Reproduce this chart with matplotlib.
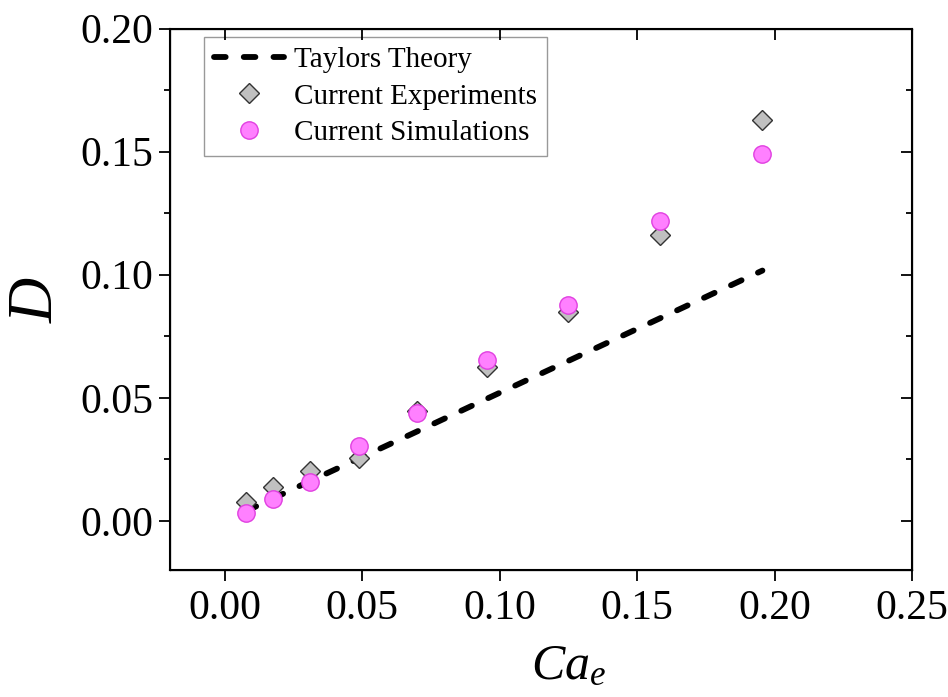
import matplotlib
matplotlib.use('Agg')
import matplotlib.pyplot as plt
from matplotlib.ticker import MultipleLocator

plt.rcParams['font.family'] = ['Liberation Serif', 'DejaVu Serif']
plt.rcParams['mathtext.fontset'] = 'custom'
plt.rcParams['mathtext.it'] = 'Liberation Serif:italic'
plt.rcParams['mathtext.rm'] = 'Liberation Serif'

# values
ca = [0.0076, 0.0174, 0.0311, 0.0487, 0.0701, 0.0955, 0.125, 0.1585, 0.1956]
d_exp = [0.0075, 0.0138, 0.0203, 0.0255, 0.0448, 0.0627, 0.0850, 0.1162, 0.1627]
d_sim = [0.0031, 0.0088, 0.0159, 0.0304, 0.0438, 0.0655, 0.0879, 0.1218, 0.1492]
d_taylor = [0.0039, 0.0090, 0.0162, 0.0253, 0.0364, 0.0497, 0.0650, 0.0824, 0.1017]

xticks = [0.00, 0.05, 0.10, 0.15, 0.20, 0.25]
yticks = [0.00, 0.05, 0.10, 0.15, 0.20]

fig = plt.figure(figsize=(9.48, 6.97), dpi=100)
ax = fig.add_axes([0.179, 0.182, 0.783, 0.777])

ax.plot(ca, d_taylor, color='black', lw=4.2, ls=(0, (2.0, 3.1)),
        dash_capstyle='round', label='Taylors Theory', zorder=2)
ax.plot(ca, d_exp, ls='none', marker='D', ms=10.5, mfc='#c0c0c0',
        mec='#333333', mew=1.0, label='Current Experiments', zorder=3)
ax.plot(ca, d_sim, ls='none', marker='o', ms=12.5, mfc='#ff80ff',
        mec='#e040e0', mew=1.0, label='Current Simulations', zorder=4)

ax.set_xlim(-0.02, 0.25)
ax.set_ylim(-0.02, 0.20)
ax.set_xticks(xticks)
ax.set_yticks(yticks)
ax.set_xticklabels(['%.2f' % v for v in xticks])
ax.set_yticklabels(['%.2f' % v for v in yticks])
ax.yaxis.set_minor_locator(MultipleLocator(0.025))

for s in ax.spines.values():
    s.set_linewidth(1.5)

ax.tick_params(axis='both', which='major', labelsize=30, width=1.3, length=8)
ax.tick_params(axis='x', which='major', direction='out', pad=6)
ax.tick_params(axis='y', which='major', direction='out', pad=4)
ax.tick_params(axis='y', which='minor', direction='out', width=1.3, length=4)

# top and right ticks point inward
ax2 = ax.twiny()
ax2.set_xlim(ax.get_xlim())
ax2.set_xticks(xticks)
ax2.tick_params(axis='x', direction='in', length=8, width=1.3, labeltop=False)
ax3 = ax.twinx()
ax3.set_ylim(ax.get_ylim())
ax3.set_yticks(yticks)
ax3.yaxis.set_minor_locator(MultipleLocator(0.025))
ax3.tick_params(axis='y', which='major', direction='in', length=8, width=1.3, labelright=False)
ax3.tick_params(axis='y', which='minor', direction='in', length=4, width=1.3)

ax.set_xlabel('$Ca_e$', fontsize=36, labelpad=2)
ax.xaxis.set_label_coords(0.537, -0.135)
ax.set_ylabel('$D$', fontsize=45, labelpad=10)

leg = ax.legend(loc='upper left', bbox_to_anchor=(0.046, 0.985), fontsize=21,
                frameon=True, fancybox=False, edgecolor='#808080',
                handlelength=2.4, handletextpad=0.35, labelspacing=0.34,
                borderpad=0.35, borderaxespad=0)
leg.get_frame().set_linewidth(1.0)
leg.set_zorder(10)

fig.savefig('out.png', dpi=100)
